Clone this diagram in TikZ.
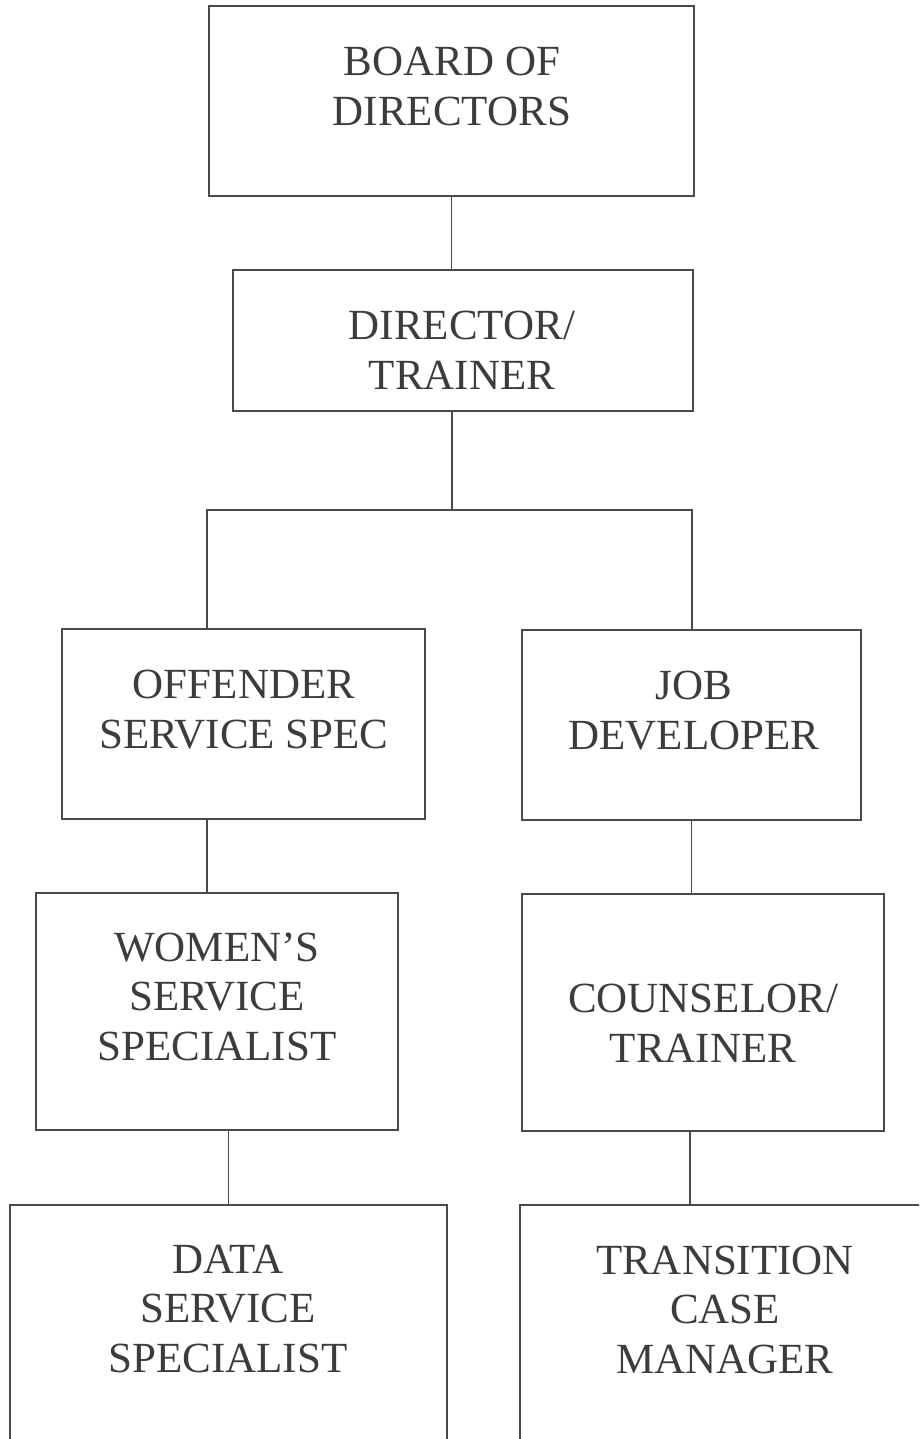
\documentclass[tikz,border=0pt]{standalone}
\usepackage{fontspec}
\setmainfont{Liberation Serif}
\definecolor{ink}{HTML}{4A4A4A}
\definecolor{txt}{HTML}{3C3C3C}
\begin{document}
\begin{tikzpicture}[x=1pt,y=-1pt,
  box/.style={draw=ink, line width=1.8pt, rectangle, inner sep=0pt, outer sep=0pt},
  lbl/.style={text=txt, align=center, anchor=base, inner sep=0pt, font=\fontsize{43}{49.5}\selectfont},
  conn/.style={draw=ink, line width=1.8pt}]
\useasboundingbox (0,0) rectangle (919,1439);
\fill[white] (0,0) rectangle (919,1439);
\clip (0,0) rectangle (919,1439);
% boxes
\node[box, minimum width=485pt, minimum height=190pt] (board) at (451.5,101) {};
\node[box, minimum width=460pt, minimum height=141pt] (dir) at (463,340.5) {};
\node[box, minimum width=363pt, minimum height=190pt] (off) at (243.5,724) {};
\node[box, minimum width=339pt, minimum height=190pt] (job) at (691.5,725) {};
\node[box, minimum width=362pt, minimum height=237pt] (wom) at (217,1011.5) {};
\node[box, minimum width=362pt, minimum height=237pt] (cou) at (703,1012.5) {};
\node[box, minimum width=437pt, minimum height=300pt] (data) at (228.5,1355) {};
\node[box, minimum width=410pt, minimum height=300pt] (trans) at (725,1355) {};
% labels (anchor base = baseline of last line)
\node[lbl] (boardt) at (452,125.5) {BOARD OF\\DIRECTORS};
\node[lbl] (dirt) at (462,389) {DIRECTOR/\\TRAINER};
\node[lbl] (offt) at (244,748) {OFFENDER\\SERVICE SPEC};
\node[lbl] (jobt) at (694,749) {JOB\\DEVELOPER};
\node[lbl] (womt) at (217,1060) {WOMEN'S\\SERVICE\\SPECIALIST};
\node[lbl] (cout) at (703,1062) {COUNSELOR/\\TRAINER};
\node[lbl] (datat) at (228,1372) {DATA\\SERVICE\\SPECIALIST};
\node[lbl] (transt) at (725,1373) {TRANSITION\\CASE\\MANAGER};
% connectors
\coordinate (j) at (452,510);
\coordinate (jl) at (207,510);
\coordinate (jr) at (692,510);
\coordinate (tc) at (690,1205);
\draw[conn] (board.south) -- (board.south |- dir.north);
\draw[conn] (j |- dir.south) -- (j);
\draw[conn] (jl |- off.north) -- (jl) -- (jr) -- (jr |- job.north);
\draw[conn] (jl |- off.south) -- (jl |- wom.north);
\draw[conn] (job.south) -- (job.south |- cou.north);
\draw[conn] (data.north |- wom.south) -- (data.north);
\draw[conn] (tc |- cou.south) -- (tc);
\end{tikzpicture}
\end{document}
